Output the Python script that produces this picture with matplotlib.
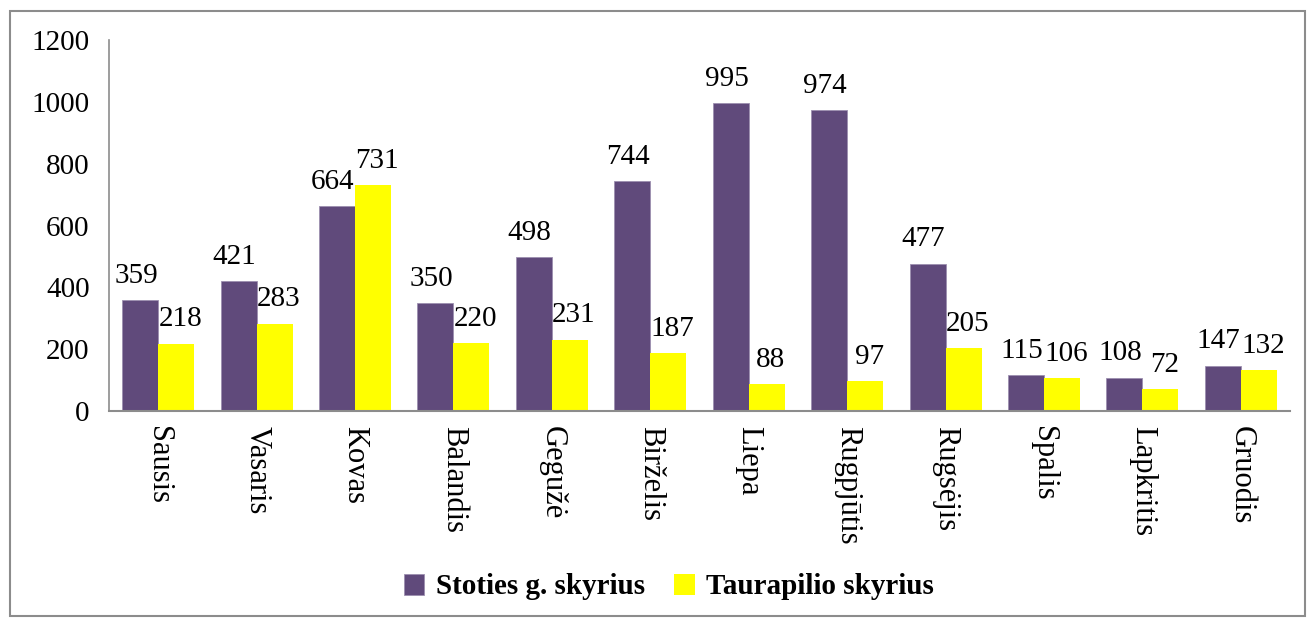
import numpy as np
import matplotlib
matplotlib.use('Agg')
import matplotlib.pyplot as plt
from matplotlib.patches import Rectangle

plt.rcParams['font.family'] = ['Liberation Serif', 'DejaVu Serif']

months = ['Sausis', 'Vasaris', 'Kovas', 'Balandis', 'Gegužė', 'Birželis',
          'Liepa', 'Rugpjūtis', 'Rugsėjis', 'Spalis', 'Lapkritis', 'Gruodis']
stoties = [359, 421, 664, 350, 498, 744, 995, 974, 477, 115, 108, 147]
taurapilio = [218, 283, 731, 220, 231, 187, 88, 97, 205, 106, 72, 132]
yticks = [0, 200, 400, 600, 800, 1000, 1200]

fig = plt.figure(figsize=(13.12, 6.19), dpi=100)
# outer chart frame
fig.patches.append(Rectangle((10/1312, 3/619), 1295/1312, 605/619, transform=fig.transFigure,
                             fill=False, edgecolor='#8c8c8c', linewidth=1.5))
ax = fig.add_axes([109/1312, 1 - 411/619, (1290-109)/1312, (411-40)/619])

x = np.arange(len(months))
w = 0.366
b1 = ax.bar(x - w/2, stoties, w, color='#604A7B', edgecolor='#9d8fb0', linewidth=0.6,
            label='Stoties g. skyrius')
b2 = ax.bar(x + w/2, taurapilio, w, color='#FFFF00', label='Taurapilio skyrius')
lab1 = ax.bar_label(b1, padding=8, fontsize=21)
lab2 = ax.bar_label(b2, padding=8, fontsize=21)
# nudge the labels apart a bit so neighbouring numbers don't collide
for t in lab1:
    t.xyann = (-3, 8)
for t in lab2:
    t.xyann = (3, 8)

ax.set_xlim(-0.5, len(months) - 0.5)
ax.set_ylim(0, 1200)
ax.set_yticks(yticks)
ax.set_xticks(x)
ax.set_xticklabels(months, rotation=270, fontsize=22, va='top')
ax.tick_params(axis='y', length=0, labelsize=21, pad=14)
ax.tick_params(axis='x', length=0, pad=11)
for s in ['top', 'right']:
    ax.spines[s].set_visible(False)
ax.spines['left'].set_color('#8c8c8c')
ax.spines['bottom'].set_color('#8c8c8c')
ax.spines['left'].set_linewidth(1.2)
ax.spines['bottom'].set_linewidth(1.5)

fig.legend(loc='center', bbox_to_anchor=(669/1312, 1 - 587/619), ncol=2, frameon=False,
           prop={'weight': 'bold', 'size': 21}, handlelength=0.7, handleheight=0.7,
           handletextpad=0.4, columnspacing=1.0)

fig.savefig('out.png', dpi=100)
